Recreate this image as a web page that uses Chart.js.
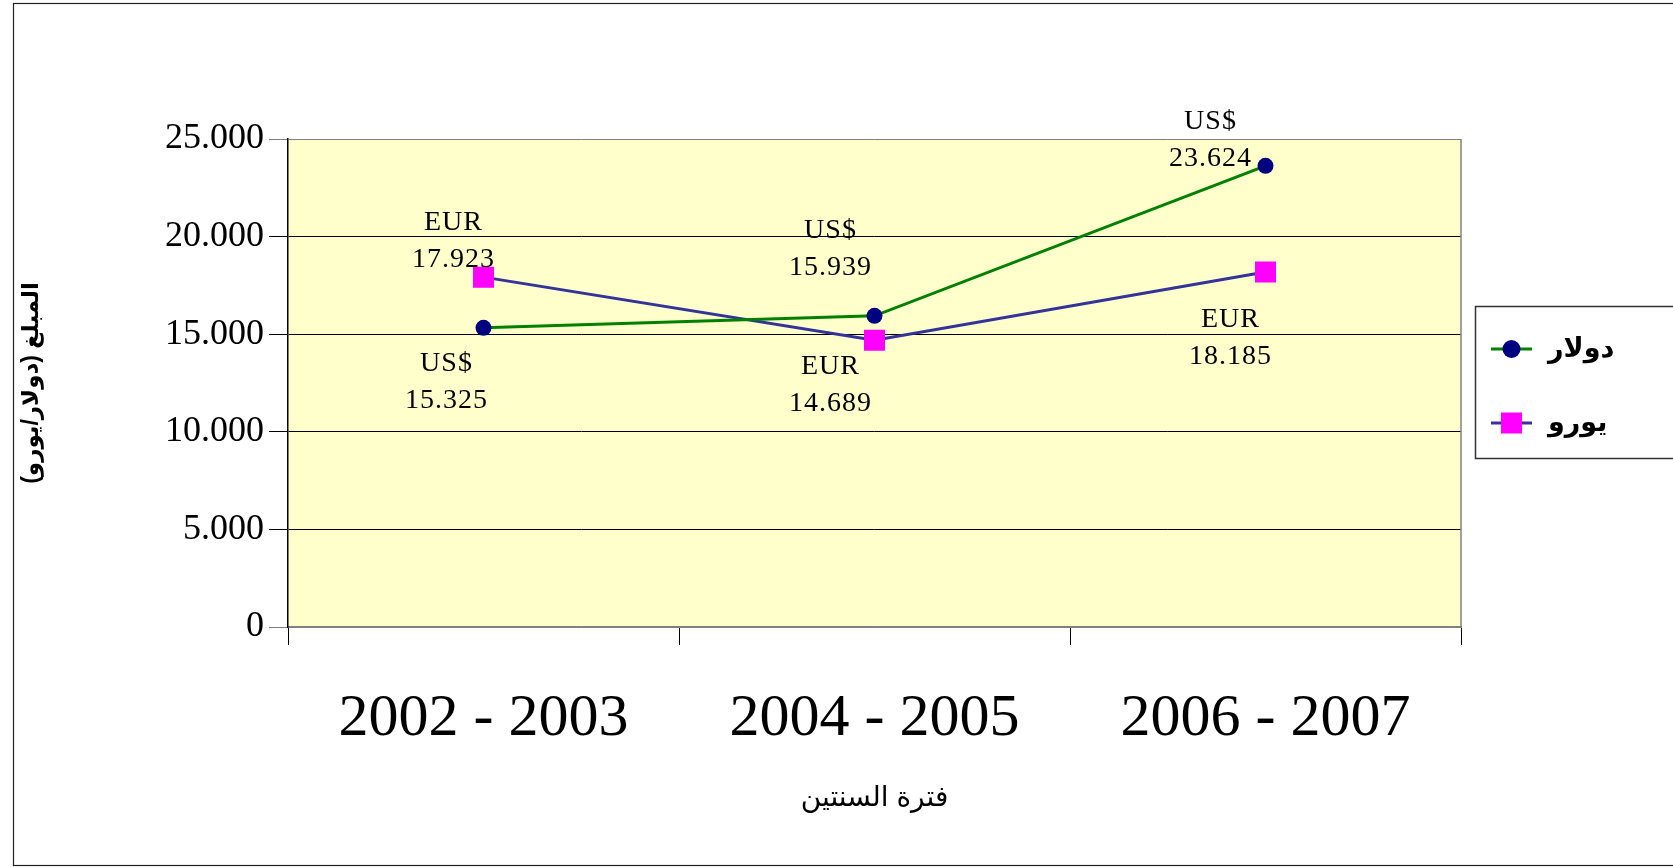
<!DOCTYPE html>
<html>
<head>
<meta charset="utf-8">
<script src="https://cdn.jsdelivr.net/npm/chart.js@4.4.1/dist/chart.umd.min.js"></script>
<style>
  html, body { margin: 0; padding: 0; background: #fff; }
  #wrap { width: 1673px; height: 867px; }
</style>
</head>
<body>
<div id="wrap"><canvas id="costChart" width="1673" height="867"></canvas></div>
<script>
/* ====== DATA ====== */
const periods = ['2002 - 2003', '2004 - 2005', '2006 - 2007'];
const dollarValues = [15325, 15939, 23624];
const euroValues = [17923, 14689, 18185];
const seriesNames = ['دولار', 'يورو'];
const seriesTags = ['US$', 'EUR'];
const yTicks = [0, 5000, 10000, 15000, 20000, 25000];

// label placement next to each point: [dx, dy of first line] (style only)
const labelOffsets = [
  [[-37, 36], [-44, -85], [-55, -44]],
  [[-30, -55], [-44, 26], [-35, 48]]
];

const SERIF = "'Liberation Serif', 'Times New Roman', serif";
const SANS = "'Liberation Sans', 'DejaVu Sans', Arial, sans-serif";

function fmt(v) {
  return String(v).replace(/\B(?=(\d{3})+(?!\d))/g, '.');
}

/**
 * Background, outer frame and plot fill
 */
const framePlugin = {
  id: 'frame',
  beforeDraw(chart) {
    const { ctx, chartArea: a } = chart;
    ctx.save();
    ctx.fillStyle = '#ffffff';
    ctx.fillRect(0, 0, chart.width, chart.height);
    ctx.strokeStyle = '#222';
    ctx.lineWidth = 1.2;
    ctx.strokeRect(13.5, 3.5, 1700, 862);
    ctx.fillStyle = '#FFFFCC';
    ctx.fillRect(a.left, a.top, a.right - a.left, a.bottom - a.top);
    ctx.restore();
  },
  beforeDatasetsDraw(chart) {
    const { ctx, chartArea: a } = chart;
    ctx.save();
    ctx.strokeStyle = '#808080';
    ctx.lineWidth = 1.5;
    ctx.beginPath();
    ctx.moveTo(a.right, a.top);
    ctx.lineTo(a.right, a.bottom);
    ctx.stroke();
    ctx.restore();
  }
};

/**
 * Two-line value labels beside each point
 */
const valueLabels = {
  id: 'valueLabels',
  afterDatasetsDraw(chart) {
    const ctx = chart.ctx;
    ctx.save();
    ctx.fillStyle = '#000';
    ctx.font = '28px ' + SERIF;
    ctx.letterSpacing = '1px';
    ctx.textAlign = 'center';
    ctx.textBaseline = 'middle';
    chart.data.datasets.forEach((ds, i) => {
      const meta = chart.getDatasetMeta(i);
      meta.data.forEach((pt, j) => {
        const [dx, dy] = labelOffsets[i][j];
        ctx.fillText(seriesTags[i], pt.x + dx, pt.y + dy);
        ctx.fillText(fmt(ds.data[j]), pt.x + dx, pt.y + dy + 37);
      });
    });
    ctx.letterSpacing = '0px';
    ctx.restore();
  }
};

/**
 * Legend box on the right
 */
const sideLegend = {
  id: 'sideLegend',
  afterDraw(chart) {
    const ctx = chart.ctx;
    ctx.save();
    ctx.strokeStyle = '#333';
    ctx.lineWidth = 1.5;
    ctx.strokeRect(1475.5, 306.5, 260, 152);
    const rows = [349, 423];
    chart.data.datasets.forEach((ds, i) => {
      const y = rows[i];
      ctx.strokeStyle = ds.borderColor;
      ctx.lineWidth = 3;
      ctx.beginPath();
      ctx.moveTo(1491, y);
      ctx.lineTo(1532, y);
      ctx.stroke();
      ctx.fillStyle = ds.pointBackgroundColor;
      if (ds.pointStyle === 'circle') {
        ctx.beginPath();
        ctx.arc(1511.5, y, 9, 0, Math.PI * 2);
        ctx.fill();
      } else {
        ctx.fillRect(1501, y - 10.5, 21, 21);
      }
      ctx.fillStyle = '#000';
      ctx.font = 'bold 27px ' + SANS;
      ctx.textAlign = 'left';
      ctx.textBaseline = 'middle';
      ctx.fillText(ds.label, 1548, y + 1);
    });
    ctx.restore();
  }
};

const costChart = new Chart(document.getElementById('costChart').getContext('2d'), {
  type: 'line',
  data: {
    labels: periods,
    datasets: [{
      label: seriesNames[0],
      data: dollarValues,
      borderColor: '#008000',
      borderWidth: 3,
      pointStyle: 'circle',
      pointRadius: 8,
      pointBackgroundColor: '#000080',
      pointBorderColor: '#000080',
      pointBorderWidth: 0,
      tension: 0,
      fill: false
    }, {
      label: seriesNames[1],
      data: euroValues,
      borderColor: '#333399',
      borderWidth: 3,
      pointStyle: 'rect',
      pointRadius: 14.85,
      pointBackgroundColor: '#FF00FF',
      pointBorderColor: '#FF00FF',
      pointBorderWidth: 0,
      tension: 0,
      fill: false
    }]
  },
  options: {
    responsive: false,
    animation: false,
    events: [],
    layout: { padding: { left: 14, top: 139, right: 212, bottom: 0 } },
    plugins: { legend: { display: false }, tooltip: { enabled: false } },
    scales: {
      x: {
        offset: true,
        afterFit: s => { s.height = 240; },
        grid: { offset: true, drawOnChartArea: false, drawTicks: true, tickLength: 18, color: '#000', lineWidth: 1 },
        border: { display: true, color: '#808080', width: 1.5 },
        ticks: { color: '#000', font: { family: SERIF, size: 60 }, padding: 38, maxRotation: 0 },
        title: {
          display: true,
          text: 'فترة السنتين',
          color: '#000',
          font: { family: SANS, size: 28 },
          padding: { top: 0, bottom: 52 }
        }
      },
      y: {
        min: 0,
        max: 25000,
        afterFit: s => { s.width = 274; },
        afterBuildTicks: s => { s.ticks = yTicks.map(v => ({ value: v })); },
        grid: {
          color: c => (c.tick && (c.tick.value === 0 || c.tick.value === 25000)) ? '#808080' : '#000',
          lineWidth: 1,
          tickLength: 19
        },
        border: { display: true, color: '#000', width: 1.5 },
        ticks: { color: '#000', font: { family: SERIF, size: 36 }, padding: 5, callback: v => fmt(v) },
        title: {
          display: true,
          text: '\u200Fالمبلغ (دولار/يورو)\u200F',
          color: '#000',
          font: { family: SANS, size: 23, weight: 'bold' },
          padding: { top: 4, bottom: 0 }
        }
      }
    }
  },
  plugins: [framePlugin, valueLabels, sideLegend]
});
</script>
</body>
</html>
